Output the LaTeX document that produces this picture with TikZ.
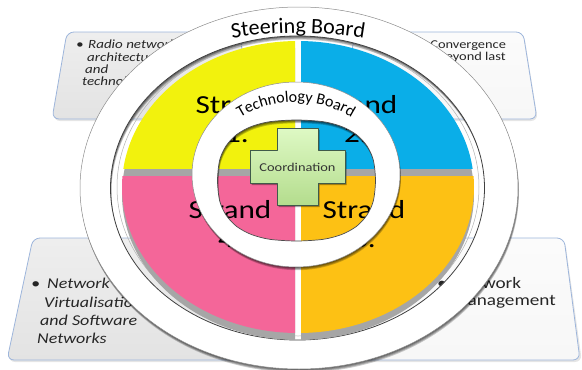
\documentclass[tikz,border=0pt]{standalone}
\usepackage{fontspec}
\setmainfont[FakeStretch=1.2]{Carlito}
\newfontfamily\plainfont{Carlito}
\usetikzlibrary{decorations.text}

\definecolor{stryellow}{HTML}{F2F20D}
\definecolor{strblue}{HTML}{0AAEE8}
\definecolor{strpink}{HTML}{F46699}
\definecolor{strorange}{HTML}{FDC114}
\definecolor{strshade}{HTML}{A6A6A6}
\definecolor{crossgreen}{HTML}{C8F59D}
\definecolor{crossedge}{HTML}{3F5A4A}
\definecolor{panelline}{HTML}{9DB5DB}
\definecolor{panelgray}{HTML}{E3E3E3}
\definecolor{panellight}{HTML}{F7F7F7}

\newcommand{\steerfont}{\plainfont\fontsize{22}{24}\selectfont}
\newcommand{\techfont}{\plainfont\fontsize{16}{18}\selectfont}
\newcommand{\techhole}{plot[smooth cycle] coordinates {(375.5,-180.5) (373.3,-160) (366.9,-145.8) (356.4,-134.6) (341.9,-126.6) (323.3,-121.7) (296.5,-120) (269.7,-121.7) (251.1,-126.6) (236.6,-134.6) (226.1,-145.8) (219.7,-160) (217.5,-180.5) (219.7,-201) (226.1,-215.2) (236.6,-226.4) (251.1,-234.4) (269.7,-239.3) (296.5,-241) (323.3,-239.3) (341.9,-234.4) (356.4,-226.4) (366.9,-215.2) (373.3,-201)}}

\tikzset{
  panel/.style={draw=panelline, line width=.8pt, rounded corners=7pt},
  panelshadow/.style={fill=black, opacity=.10, rounded corners=7pt},
  paneltext/.style={anchor=base west, inner sep=0pt, text=black!85, font=\fontsize{#1}{#1}\selectfont},
  strandtext/.style={anchor=base, inner sep=0pt, font=\fontsize{26}{26}\selectfont},
  ringshadow/.style={fill=black, opacity=.2, even odd rule},
  ringface/.style={fill=white, even odd rule}
}

\begin{document}
\begin{tikzpicture}[x=1pt, y=1pt, line join=round]
    \useasboundingbox (0,0) rectangle (582,-370);

    % panels behind the wheel
    \fill[panelshadow] (68,-34) -- (240,-34) -- (255,-121) -- (53,-121) -- cycle;
    \draw[panel, top color=panelgray!60, bottom color=panelgray] (67,-32) -- (239,-32) -- (254,-119) -- (52,-119) -- cycle;
    \fill[panelshadow] (356,-34) -- (524,-34) -- (538,-121) -- (342,-121) -- cycle;
    \draw[panel, top color=panellight!50, bottom color=panellight] (355,-32) -- (523,-32) -- (537,-119) -- (341,-119) -- cycle;
    \fill[panelshadow] (34,-240) -- (212,-240) -- (238,-362) -- (8,-362) -- cycle;
    \draw[panel, top color=panelgray!60, bottom color=panelgray] (33,-238) -- (211,-238) -- (237,-360) -- (7,-360) -- cycle;
    \fill[panelshadow] (381,-240) -- (565,-240) -- (582,-362) -- (364,-362) -- cycle;
    \draw[panel, top color=panellight!50, bottom color=panellight] (380,-238) -- (564,-238) -- (580,-360) -- (363,-360) -- cycle;

    \foreach \t/\x/\y [count=\i] in {{\textbullet\hspace{4.5pt}Radio network}/76/48, architecture/87/61, and/85/73, technology/82/85}
        \node[paneltext=12.5] (radio\i) at (\x,-\y) {\itshape\t};
    \foreach \t/\x/\y [count=\i] in {{\textbullet\hspace{5pt}Convergence}/418/48, {beyond last}/438/60}
        \node[paneltext=12] (conv\i) at (\x,-\y) {\t};
    \foreach \t/\x/\y [count=\i] in {{\textbullet\hspace{7pt}Network}/31/288, Virtualisation/44/307, {and Software}/40/325, Networks/37/343}
        \node[paneltext=15] (virt\i) at (\x,-\y) {\itshape\t};
    \foreach \t/\x/\y [count=\i] in {{\textbullet\hspace{7pt}Network}/437/288, Management/451/305}
        \node[paneltext=16] (mgmt\i) at (\x,-\y) {\t};

    % steering ring
    \foreach \d in {1,...,4}
        \fill[ringshadow, shift={(.25*\d,-.9*\d)}] (299,-188) ellipse [x radius=219pt, y radius=181pt] (297.5,-188) ellipse [x radius=187pt, y radius=152pt];
    \fill[ringface] (299,-188) ellipse [x radius=219pt, y radius=181pt] (297.5,-188) ellipse [x radius=187pt, y radius=152pt];
    \draw[black!45, line width=.5pt] (299,-188) ellipse [x radius=219pt, y radius=181pt];
    \draw[black!75, line width=.8pt] (297.5,-188) ellipse [x radius=187pt, y radius=152pt];
    \draw[black!30, line width=.5pt] (298,-187) ellipse [x radius=181pt, y radius=149pt];

    % strands
    \foreach \xa/\xb/\ya/\yb/\col in {100/295/30/168/stryellow, 301/500/30/168/strblue, 100/295/176/345/strpink, 301/500/176/345/strorange} {
        \begin{scope}
            \clip (\xa,-\ya-7) rectangle (\xb,-\yb-7);
            \fill[strshade] (298,-194) ellipse [x radius=176pt, y radius=146pt];
        \end{scope}
        \begin{scope}
            \clip (\xa,-\ya) rectangle (\xb,-\yb);
            \fill[\col] (298,-187) ellipse [x radius=176pt, y radius=146pt];
        \end{scope}
    }
    \foreach \q/\x/\y/\lbl in {1/237/113/1., 2/356/113/2., 4/230/218/4., 3/364/218/3.} {
        \node[strandtext] (strand\q) at (\x,-\y) {Strand};
        \node[strandtext] (strandno\q) at (\x,-\y-29) {\lbl};
    }

    % technology ring
    \foreach \d in {1,...,4}
        \fill[ringshadow, shift={(.25*\d,-.8*\d)}] (296,-174.5) ellipse [x radius=104pt, y radius=92.5pt] \techhole;
    \fill[ringface] (296,-174.5) ellipse [x radius=104pt, y radius=92.5pt] \techhole;
    \draw[black!45, line width=.5pt] (296,-174.5) ellipse [x radius=104pt, y radius=92.5pt];
    \draw[black!70, line width=.7pt] \techhole;
    \path[decorate, decoration={text along path, text align=center, text={|\techfont|Technology Board}}]
        (296,-175) ++(150:90pt and 73pt) arc [start angle=150, end angle=30, x radius=90pt, y radius=73pt];

    % coordination cross
    \fill[black, opacity=.35] (278.5,-130) -- (319.5,-130) -- (319.5,-152) -- (346.5,-152) -- (346.5,-185) -- (319.5,-185) -- (319.5,-207) -- (278.5,-207) -- (278.5,-185) -- (251.5,-185) -- (251.5,-152) -- (278.5,-152) -- cycle;
    \draw[crossedge, line width=.9pt, top color=crossgreen!60!white, bottom color=crossgreen!90!black] (277,-128) -- (318,-128) -- (318,-150) -- (345,-150) -- (345,-183) -- (318,-183) -- (318,-205) -- (277,-205) -- (277,-183) -- (250,-183) -- (250,-150) -- (277,-150) -- cycle;
    \node[inner sep=0pt, text=black!80, font=\fontsize{12}{12}\selectfont] (coord) at (297.5,-167) {Coordination};

    \path[decorate, decoration={text along path, text align=center, text={|\steerfont|Steering Board}}]
        (298,-188) ++(122:250pt and 155pt) arc [start angle=122, end angle=58, x radius=250pt, y radius=155pt];
\end{tikzpicture}
\end{document}
